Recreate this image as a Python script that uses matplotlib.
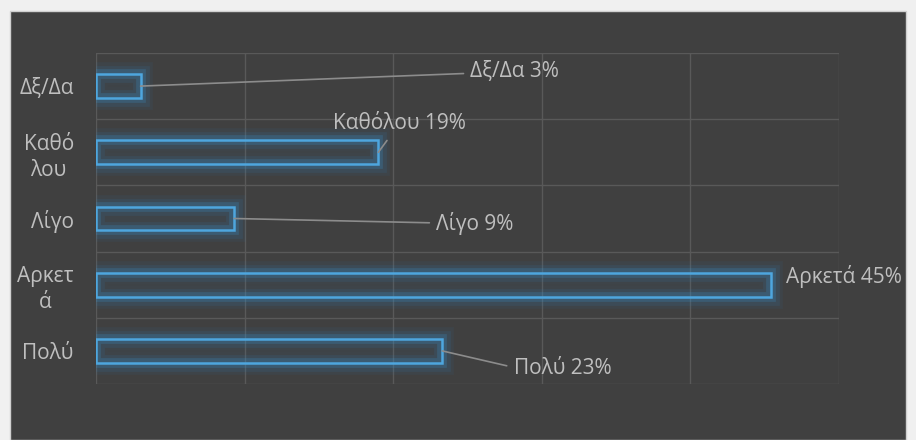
import matplotlib
matplotlib.use('Agg')
import matplotlib.pyplot as plt
import matplotlib.patheffects as pe
from matplotlib.patches import Rectangle
import numpy as np

categories = ['Δξ/Δα', 'Καθόλου', 'Λίγο', 'Αρκετά', 'Πολύ']
tick_labels = ['Δξ/Δα', 'Καθό\nλου', 'Λίγο', 'Αρκετ\nά', 'Πολύ']
values = [3.0, 19.0, 9.3, 45.4, 23.3]

# label placement (data coords), alignment and leader line style
label_pos = [(25.2, -0.22), (20.4, 0.57), (22.9, 2.08), (46.4, 2.87), (28.1, 4.27)]
label_ha = ['left', 'center', 'left', 'left', 'left']
leader = ['arc3', 'arc3', 'arc3', None, 'angle,angleA=0,angleB=-13,rad=0']

bg = '#404040'
txt = '#bfbfbf'
blue = '#4ea6de'
grid = '#595959'

plt.rcParams['font.family'] = ['Open Sans', 'DejaVu Sans']

fig = plt.figure(figsize=(9.16, 4.40), dpi=100, facecolor='#f0f0f0')
fig.patches.append(Rectangle((10 / 916, 0), 896 / 916, 429 / 440, transform=fig.transFigure,
                             facecolor=bg, edgecolor='#d0d0d0', lw=1, zorder=-5))

ax = fig.add_axes([96 / 916, 56 / 440, 743 / 916, 331 / 440])
ax.set_facecolor('none')
for s in ax.spines.values():
    s.set_visible(False)

ind = np.arange(len(categories))
ax.set_xlim(0, 50)
ax.set_ylim(4.5, -0.5)

# grid
for gx in np.arange(0, 51, 10):
    ax.axvline(gx, color=grid, lw=1, zorder=1)
for gy in np.arange(-0.5, 4.6, 1):
    ax.axhline(gy, color=grid, lw=1, zorder=1)

glow = [pe.Stroke(linewidth=17, foreground='#2f7fb8', alpha=0.08),
        pe.Stroke(linewidth=12, foreground='#2f7fb8', alpha=0.13),
        pe.Stroke(linewidth=7, foreground='#3a90c8', alpha=0.24),
        pe.Normal()]
bars = ax.barh(ind, values, height=0.36, facecolor='none', edgecolor=blue, lw=1.8, zorder=3)
for b in bars:
    b.set_path_effects(glow)

ax.set_yticks(ind)
ax.set_yticklabels(tick_labels, color=txt, fontsize=15, multialignment='center', linespacing=1.3)
ax.set_xticks([])
ax.tick_params(axis='y', length=0, pad=16)

for i in range(len(categories)):
    s = '%s %d%%' % (categories[i], round(values[i]))
    if leader[i]:
        ax.annotate(s, xy=(values[i], ind[i]), xytext=label_pos[i], textcoords='data',
                    ha=label_ha[i], va='center', color=txt, fontsize=15,
                    arrowprops=dict(arrowstyle='-', color='#8c8c8c', lw=1.2, shrinkA=3, shrinkB=0,
                                    connectionstyle=leader[i]),
                    zorder=4)
    else:
        ax.text(label_pos[i][0], label_pos[i][1], s, ha=label_ha[i], va='center',
                color=txt, fontsize=15, zorder=4)

fig.savefig('out.png', dpi=100, facecolor=fig.get_facecolor())
